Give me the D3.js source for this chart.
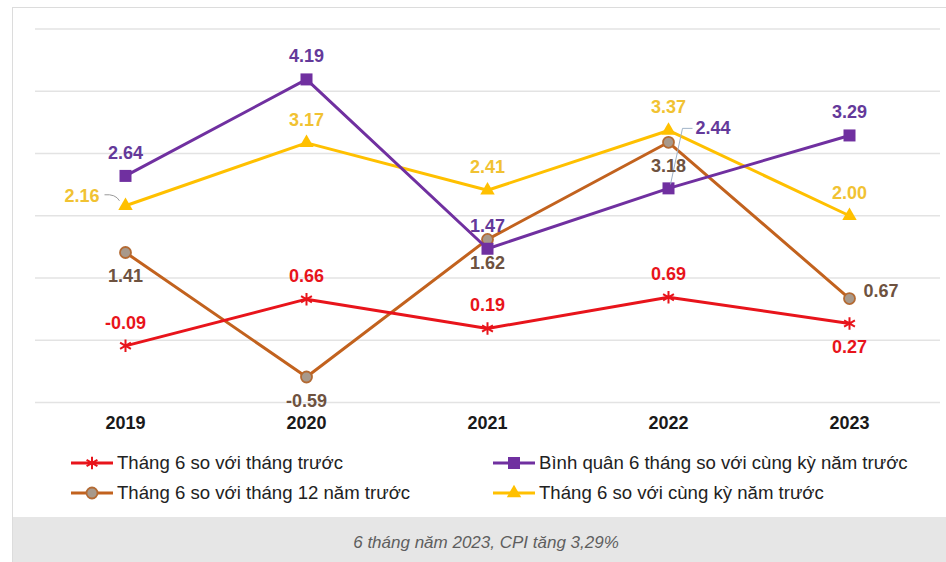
<!DOCTYPE html>
<html>
<head>
<meta charset="utf-8">
<script src="https://cdn.jsdelivr.net/npm/d3@7"></script>
<style>
  html, body { margin: 0; padding: 0; background: #fff; }
  svg { display: block; font-family: "Liberation Sans", Arial, sans-serif; }
</style>
</head>
<body>
<div id="chart"></div>
<script>
const years = ['2019', '2020', '2021', '2022', '2023'];
const vsPrevMonth = [-0.09, 0.66, 0.19, 0.69, 0.27];
const vsDecPrevYear = [1.41, -0.59, 1.62, 3.18, 0.67];
const avg6Months = [2.64, 4.19, 1.47, 2.44, 3.29];
const vsSamePeriod = [2.16, 3.17, 2.41, 3.37, 2.00];
const yTicks = [-1, 0, 1, 2, 3, 4, 5];
const caption = '6 tháng năm 2023, CPI tăng 3,29%';

const width = 946;
const height = 562;

const series = [
  { name: 'Tháng 6 so với tháng trước', values: vsPrevMonth, line: '#e8141b', text: '#e8141b', marker: 'star',
    place: ['top', 'top', 'top', 'top', 'bottom'] },
  { name: 'Bình quân 6 tháng so với cùng kỳ năm trước', values: avg6Months, line: '#7030a0', text: '#64399a', marker: 'square',
    place: ['top', 'top', 'top', 'leader', 'top'] },
  { name: 'Tháng 6 so với tháng 12 năm trước', values: vsDecPrevYear, line: '#c2621e', text: '#6e5240', marker: 'circle',
    place: ['bottom', 'bottom', 'bottom', 'bottom', 'right'] },
  { name: 'Tháng 6 so với cùng kỳ năm trước', values: vsSamePeriod, line: '#ffc000', text: '#f1c232', marker: 'triangle',
    place: ['left', 'top', 'top', 'top', 'top'] }
];
// draw order: brown, yellow, purple, red on top
const drawOrder = [2, 3, 1, 0];

const svg = d3.select('#chart')
  .append('svg')
  .attr('width', width)
  .attr('height', height)
  .attr('viewBox', [0, 0, width, height]);

// panel + caption strip
svg.append('rect')
  .attr('x', 12.5).attr('y', 7.5)
  .attr('width', width).attr('height', height)
  .attr('fill', '#fff')
  .attr('stroke', '#dcdcdc');
svg.append('rect')
  .attr('x', 13).attr('y', 517)
  .attr('width', width - 13).attr('height', height - 517)
  .attr('fill', '#e6e6e6');
svg.append('text')
  .attr('x', 486).attr('y', 548)
  .attr('text-anchor', 'middle')
  .attr('fill', '#5e5e5e')
  .style('font-style', 'italic')
  .style('font-size', '17px')
  .text(caption);

const x = d3.scalePoint()
  .domain(years)
  .range([35, 940])
  .padding(0.5);

const y = d3.scaleLinear()
  .domain([-1, 5])
  .range([402.5, 29]);

// gridlines
svg.append('g')
  .selectAll('line')
  .data(yTicks)
  .join('line')
  .attr('x1', 35).attr('x2', 940)
  .attr('y1', d => y(d)).attr('y2', d => y(d))
  .attr('stroke', '#e3e3e3')
  .attr('stroke-width', 1.5);

// x axis labels
svg.append('g')
  .selectAll('text')
  .data(years)
  .join('text')
  .attr('x', d => x(d))
  .attr('y', 429)
  .attr('text-anchor', 'middle')
  .attr('fill', '#1a1a1a')
  .style('font-size', '18px')
  .style('font-weight', 'bold')
  .text(d => d);

const line = d3.line()
  .x((d, i) => x(years[i]))
  .y(d => y(d));

function drawMarker(g, type, s, px, py) {
  if (type === 'square') {
    g.append('rect')
      .attr('x', px - 6).attr('y', py - 6)
      .attr('width', 12).attr('height', 12)
      .attr('fill', s.line);
  } else if (type === 'triangle') {
    g.append('path')
      .attr('d', d3.symbol(d3.symbolTriangle, 90)())
      .attr('transform', `translate(${px},${py})`)
      .attr('fill', s.line);
  } else if (type === 'circle') {
    g.append('circle')
      .attr('cx', px).attr('cy', py).attr('r', 5.5)
      .attr('fill', '#a8998b')
      .attr('stroke', '#b36a33')
      .attr('stroke-width', 1.8);
  } else {
    g.append('path')
      .attr('d', d3.symbol(d3.symbolAsterisk, 110)())
      .attr('transform', `translate(${px},${py})`)
      .attr('fill', 'none')
      .attr('stroke', s.line)
      .attr('stroke-width', 2);
  }
}

drawOrder.forEach(k => {
  const s = series[k];
  const g = svg.append('g');
  g.append('path')
    .datum(s.values)
    .attr('d', line)
    .attr('fill', 'none')
    .attr('stroke', s.line)
    .attr('stroke-width', 3)
    .attr('stroke-linejoin', 'round');
  s.values.forEach((v, i) => drawMarker(g, s.marker, s, x(years[i]), y(v)));
});

// data labels
series.forEach(s => {
  const g = svg.append('g')
    .style('font-size', '18px')
    .style('font-weight', 'bold')
    .attr('fill', s.text);
  s.values.forEach((v, i) => {
    const px = x(years[i]);
    const py = y(v);
    const label = v.toFixed(2);
    const p = s.place[i];
    let tx = px, ty = py, anchor = 'middle';
    if (p === 'top') { ty = py - 17; }
    else if (p === 'bottom') { ty = py + 30; }
    else if (p === 'right') { tx = px + 14; ty = py - 2; anchor = 'start'; }
    else if (p === 'left') { tx = px - 26; ty = py - 4; anchor = 'end'; }
    else if (p === 'leader') { tx = px + 27; ty = py - 54; anchor = 'start'; }
    if (p === 'left') {
      g.append('path')
        .attr('d', `M${px - 21},${py - 11} Q${px - 10},${py - 12} ${px - 6},${py - 5}`)
        .attr('fill', 'none').attr('stroke', '#9a9a9a').attr('stroke-width', 1);
    }
    if (p === 'leader') {
      g.append('polyline')
        .attr('points', [[px + 24, py - 60], [px + 14, py - 60], [px + 2, py - 4]].join(' '))
        .attr('fill', 'none').attr('stroke', '#9fb3c8').attr('stroke-width', 1);
    }
    g.append('text')
      .attr('x', tx).attr('y', ty)
      .attr('text-anchor', anchor)
      .text(label);
  });
});

// legend
const legendPos = [[71, 463], [493, 463], [71, 493], [493, 493]];
series.forEach((s, k) => {
  const [lx, ly] = legendPos[k];
  const g = svg.append('g');
  g.append('line')
    .attr('x1', lx).attr('x2', lx + 42)
    .attr('y1', ly).attr('y2', ly)
    .attr('stroke', s.line).attr('stroke-width', 3);
  drawMarker(g, s.marker, s, lx + 21, ly);
  g.append('text')
    .attr('x', lx + 46).attr('y', ly + 6)
    .attr('fill', '#222')
    .style('font-size', '18.6px')
    .text(s.name);
});
</script>
</body>
</html>
